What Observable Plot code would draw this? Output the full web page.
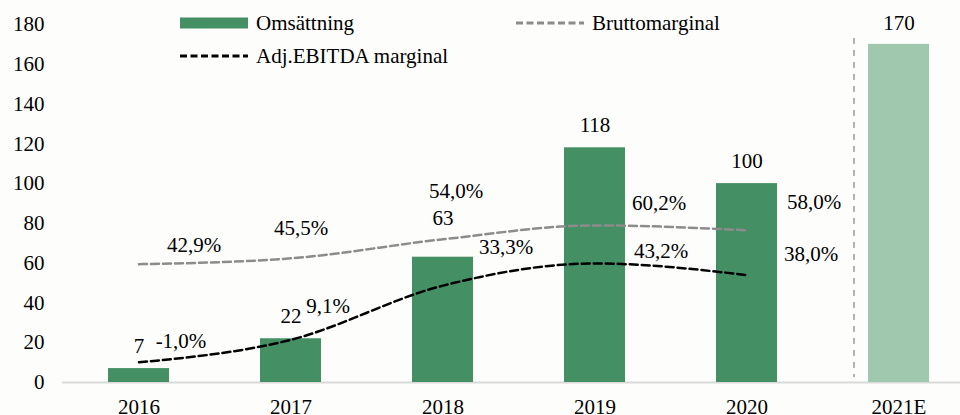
<!DOCTYPE html>
<html>
<head>
<meta charset="utf-8">
<script src="https://cdn.jsdelivr.net/npm/d3@7"></script>
<script src="https://cdn.jsdelivr.net/npm/@observablehq/plot@0.6"></script>
<style>
  html, body { margin: 0; padding: 0; background: #fdfdfb; }
  #wrap { position: relative; width: 960px; height: 415px; font-family: "Liberation Serif", "Times New Roman", serif; color: #000; }
  .lg { position: absolute; display: flex; align-items: center; font-size: 21px; line-height: 1; white-space: nowrap; }
  .lg svg { margin-right: 8px; }
</style>
</head>
<body>
<div id="wrap"></div>
<script>
// ---- data ----
const years = ["2016", "2017", "2018", "2019", "2020", "2021E"];
const revenue = [7, 22, 63, 118, 100, 170];           // Omsättning
const estimate = [false, false, false, false, false, true];
const marginYears = ["2016", "2017", "2018", "2019", "2020"];
const grossMargin = [42.9, 45.5, 54.0, 60.2, 58.0];   // Bruttomarginal, %
const ebitdaMargin = [-1.0, 9.1, 33.3, 43.2, 38.0];   // Adj.EBITDA marginal, %
const yTicks = [0, 20, 40, 60, 80, 100, 120, 140, 160, 180];

// secondary (hidden) axis for the margins: -10% .. 150% mapped onto 0 .. 180
const secMin = -10, secMax = 150, priMax = 180;
const toPrimary = p => (p - secMin) / (secMax - secMin) * priMax;

// ---- styles / label placement ----
const green = "#458f64", lightGreen = "#a0c8af";
const FONT = 21;
const barLabelDy = [-22, -22, -39, -23, -22, -21];
const grossOff = [[55, -19], [10, -30], [13, -48], [64, -22], [67, -28]];
const ebitdaOff = [[42, -21], [37, -33], [63, -38], [66, -12], [64, -21]];

const bars = years.map((y, i) => ({year: y, value: revenue[i], est: estimate[i]}));
const gross = marginYears.map((y, i) => ({year: y, pct: grossMargin[i], v: toPrimary(grossMargin[i])}));
const ebitda = marginYears.map((y, i) => ({year: y, pct: ebitdaMargin[i], v: toPrimary(ebitdaMargin[i])}));
const fmt = p => p.toFixed(1).replace(".", ",") + "%";

const marks = [
  Plot.ruleY([0], {stroke: "#d9d9d9", strokeWidth: 2}),
  Plot.barY(bars, {x: "year", y: "value", fill: d => d.est ? lightGreen : green}),
  Plot.ruleX(["2021E"], {dx: -45, stroke: "#b4b4b4", strokeWidth: 2, strokeDasharray: "6,6", insetTop: 14, insetBottom: 5}),
  Plot.lineY(gross, {x: "year", y: "v", stroke: "#8c8c8c", strokeWidth: 2.5, strokeDasharray: "8,4", curve: "monotone-x"}),
  Plot.lineY(ebitda, {x: "year", y: "v", stroke: "#000", strokeWidth: 2.5, strokeDasharray: "8,4", curve: "monotone-x"}),
  ...bars.map((d, i) => Plot.text([d], {x: "year", y: "value", text: d => String(d.value), dy: barLabelDy[i], fontSize: FONT, fill: "#000"})),
  ...gross.map((d, i) => Plot.text([d], {x: "year", y: "v", text: d => fmt(d.pct), dx: grossOff[i][0], dy: grossOff[i][1], fontSize: FONT, fill: "#000"})),
  ...ebitda.map((d, i) => Plot.text([d], {x: "year", y: "v", text: d => fmt(d.pct), dx: ebitdaOff[i][0], dy: ebitdaOff[i][1], fontSize: FONT, fill: "#000"})),
  Plot.axisX({tickSize: 0, tickPadding: 17, fontSize: FONT, fill: "#000"}),
  Plot.axisY({ticks: yTicks, tickSize: 0, tickPadding: 18, fontSize: FONT, fill: "#000"})
];

const chart = Plot.plot({
  width: 960,
  height: 415,
  marginLeft: 62,
  marginRight: 0,
  marginTop: 24,
  marginBottom: 33,
  style: {background: "#fdfdfb", fontFamily: "'Liberation Serif', 'Times New Roman', serif", fontSize: FONT + "px", color: "#000", overflow: "visible"},
  x: {type: "band", domain: years, range: [62, 974], paddingInner: 0.6, paddingOuter: 0.3, label: null},
  y: {domain: [0, priMax], label: null},
  marks
});

const wrap = document.getElementById("wrap");
wrap.appendChild(chart);

// ---- legend (overlay above the plot) ----
const legendItems = [
  {label: "Omsättning", kind: "bar", color: green, left: 180, top: 23},
  {label: "Bruttomarginal", kind: "dash", color: "#8c8c8c", left: 516, top: 23},
  {label: "Adj.EBITDA marginal", kind: "dash", color: "#000", left: 180, top: 56}
];
for (const it of legendItems) {
  const div = document.createElement("div");
  div.className = "lg";
  div.style.left = it.left + "px";
  div.style.top = (it.top - 12) + "px";
  div.style.height = "24px";
  const sw = it.kind === "bar"
    ? `<svg width="68" height="12"><rect x="0" y="0.5" width="68" height="11" fill="${it.color}"/></svg>`
    : `<svg width="68" height="12"><line x1="0" x2="68" y1="6" y2="6" stroke="${it.color}" stroke-width="3" stroke-dasharray="7,3.5"/></svg>`;
  div.innerHTML = sw + `<span>${it.label}</span>`;
  wrap.appendChild(div);
}
</script>
</body>
</html>
